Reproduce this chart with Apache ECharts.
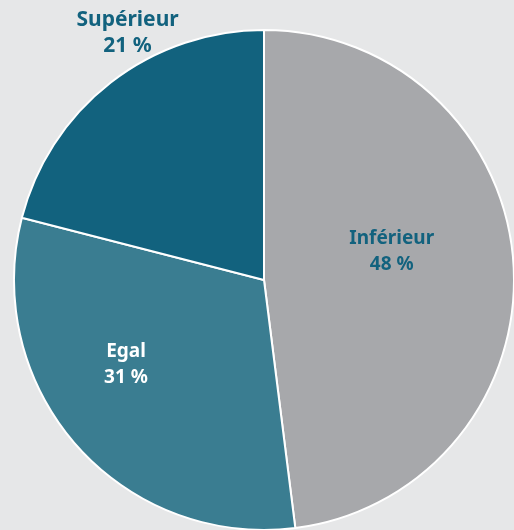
<!DOCTYPE html>
<html>
	<head>
		<meta charset="utf-8" />
		<title></title>
		<script type="text/javascript" src="https://cdn.jsdelivr.net/npm/echarts@6/dist/echarts.min.js"></script>
		<style>
			html, body { margin: 0; padding: 0; background: #e6e7e8; }
		</style>
	</head>
	<body>
		<div id="chart" style="width: 514px;height:530px;"></div>
	</body>
</html>
<script type="text/javascript">
	var categories = ["Inférieur", "Egal", "Supérieur"];
	var values = [48, 31, 21];
	var colors = ["#a7a8ab", "#3a7d91", "#12627e"];
	var labelColors = ["#12627e", "#ffffff", "#12627e"];
	var labelSizes = [19, 19, 21];
	var labelOffsets = [[0, -20], [-42, 0], [-58, -146]];

	var chart = echarts.init(document.getElementById("chart"));
	chart.setOption({
		backgroundColor: "#e6e7e8",
		animation: false,
		series: [{
			type: "pie",
			center: [264, 280],
			radius: [0, 250],
			startAngle: 90,
			clockwise: true,
			silent: true,
			itemStyle: {
				borderColor: "#ffffff",
				borderWidth: 2
			},
			label: {
				show: true,
				position: "inside",
				fontFamily: "Noto Sans",
				fontWeight: "bold",
				lineHeight: 26,
				formatter: function (p) {
					return p.name + "\n" + p.value + " %";
				}
			},
			labelLine: { show: false },
			data: categories.map(function (name, i) {
				return {
					name: name,
					value: values[i],
					itemStyle: { color: colors[i] },
					label: { color: labelColors[i], fontSize: labelSizes[i], offset: labelOffsets[i] }
				};
			})
		}]
	});
</script>
